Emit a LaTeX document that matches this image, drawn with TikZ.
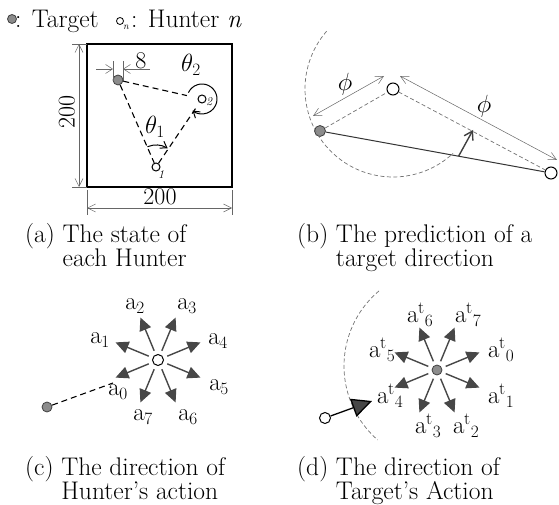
\documentclass[tikz,border=0pt]{standalone}
\usetikzlibrary{arrows.meta,calc}
\begin{document}
\begin{tikzpicture}[x=1pt,y=-1pt,
  tgt/.style={circle, draw=black!75, fill=black!45, line width=0.8pt, minimum size=10pt, inner sep=0pt},
  hun/.style={circle, draw=black, fill=white, line width=1pt, minimum size=11pt, inner sep=0pt},
  dimln/.style={draw=black!60, line width=0.5pt},
  dimarr/.style={dimln, {Straight Barb[length=8pt,width=8pt]}-{Straight Barb[length=8pt,width=8pt]}},
  dsh/.style={line width=1.1pt, dash pattern=on 6pt off 4pt},
  gdsh/.style={draw=black!55, line width=0.7pt, dash pattern=on 4pt off 2.5pt},
  act/.style={draw=black!72, line width=1.4pt, -{Triangle[length=13pt,width=12pt]}},
  captext/.style={font=\fontsize{25.5}{24}\selectfont, inner sep=0pt, anchor=base west},
  lbl/.style={font=\fontsize{24}{24}\selectfont, inner sep=0pt},
  sub/.style={font=\fontsize{12}{12}\selectfont\itshape, inner sep=0pt}
]
\useasboundingbox (0,0) rectangle (559,505);

% legend
\node[tgt, minimum size=9pt] (lt) at (12,19) {};
\node[captext] (ltx) at (15,28) {: Target};
\node[hun, minimum size=7pt, line width=0.8pt] (lh) at (120,21) {};
\node[sub, font=\fontsize{10}{10}\selectfont\itshape] (ln) at (126,27) {n};
\node[captext] (lhx) at (131,28) {: Hunter \textit{n}};

% ---------- (a)
\node[draw, line width=1.5pt, minimum width=145pt, minimum height=143pt, inner sep=0pt] (field) at (159.5,115.5) {};
\coordinate (lt1) at (72,44); \coordinate (lt2) at (87,44);
\coordinate (lb1) at (72,187); \coordinate (lb2) at (87,187);
\draw[dimln] (lt1) -- (lt2); \draw[dimln] (lb1) -- (lb2);
\coordinate (ld1) at (79,44); \coordinate (ld2) at (79,187);
\draw[dimarr] (ld1) -- (ld2);
\node[lbl, rotate=90] (l200) at (67,112) {200};
\coordinate (bt1) at (87,190); \coordinate (bt2) at (87,215);
\coordinate (bt3) at (232,190); \coordinate (bt4) at (232,215);
\draw[dimln] (bt1) -- (bt2); \draw[dimln] (bt3) -- (bt4);
\coordinate (bd1) at (87,208); \coordinate (bd2) at (232,208);
\draw[dimarr] (bd1) -- (bd2);
\node[lbl] (b200) at (160,197) {200};

\node[tgt] (ta) at (118,80) {};
\node[hun, minimum size=8pt] (h2) at (202,99) {};
\node[sub] (h2s) at (209,102) {2};
\node[hun, minimum size=8pt] (h1) at (156,167) {};
\node[sub] (h1s) at (161,175) {1};

% size 8 dimension
\coordinate (e1a) at (113,61); \coordinate (e1b) at (113,81);
\coordinate (e2a) at (123,61); \coordinate (e2b) at (123,81);
\draw[dimln] (e1a) -- (e1b); \draw[dimln] (e2a) -- (e2b);
\coordinate (e3) at (96,69); \coordinate (e4) at (113,69);
\coordinate (e5) at (150,69); \coordinate (e6) at (123,69);
\draw[dimln, -{Straight Barb[length=7pt,width=9pt]}] (e3) -- (e4);
\draw[dimln, -{Straight Barb[length=7pt,width=9pt]}] (e5) -- (e6);
\node[lbl] (eight) at (141,61) {8};

\draw[dsh, shorten >=11pt] (ta) -- (h2);
\draw[dsh] (ta) -- (h1);
\draw[dsh, shorten >=6pt] (h1) -- (h2);

\draw[line width=1pt, -{Straight Barb[length=6pt,width=8pt]}] ($(h2)+(-155:15)$) arc[start angle=-155, end angle=129, radius=15];
\draw[line width=1pt, -{Straight Barb[length=6pt,width=8pt]}] ($(h1)+(-113:22)$) arc[start angle=-113, end angle=-58, radius=22];
\node[lbl] (th2) at (191,65) {$\theta_{2}$};
\node[lbl] (th1) at (155,127) {$\theta_{1}$};

% ---------- (b)
\node[tgt, minimum size=11pt] (tb) at (320,131) {};
\node[hun, minimum size=12pt] (hA) at (393,89) {};
\node[hun, minimum size=12pt] (hB) at (551,173) {};
\draw[gdsh] ($(hA)+(-139:88)$) arc[start angle=-139, end angle=-313, radius=88];
\draw[gdsh] (tb) -- (hA);
\draw[gdsh] (hA) -- (hB);
\draw[line width=1pt, draw=black!80] (tb) -- (hB);
\coordinate (pa1) at (313,116); \coordinate (pa2) at (384,76);
\coordinate (pb1) at (400,76); \coordinate (pb2) at (557,160);
\draw[dimarr] (pa1) -- (pa2);
\draw[dimarr] (pb1) -- (pb2);
\node[lbl] (phi1) at (345,84) {$\phi$};
\node[lbl] (phi2) at (484,106) {$\phi$};
\coordinate (pr) at ($(tb)!0.6!(hB)$);
\coordinate (pq) at (473,130);
\draw[line width=1.4pt, draw=black!75, -{Straight Barb[length=8pt,width=10pt]}] (pr) -- (pq);

% ---------- (c)
\node[tgt] (tc) at (47,407) {};
\node[hun] (hc) at (158,360) {};
\foreach \k in {0,...,7} {
  \coordinate (c\k) at ($(hc)+({45*\k-202.5}:46)$);
  \draw[act, shorten <=4pt] (hc) -- (c\k);
}
\coordinate (ce) at (113,383);
\draw[dsh] (tc) -- (ce);
\node[lbl] (a0) at (118,392) {$\mathrm{a}_{0}$};
\node[lbl] (a1) at (100,340) {$\mathrm{a}_{1}$};
\node[lbl] (a2) at (135,306) {$\mathrm{a}_{2}$};
\node[lbl] (a3) at (187,306) {$\mathrm{a}_{3}$};
\node[lbl] (a4) at (218,341) {$\mathrm{a}_{4}$};
\node[lbl] (a5) at (219,387) {$\mathrm{a}_{5}$};
\node[lbl] (a6) at (188,417) {$\mathrm{a}_{6}$};
\node[lbl] (a7) at (143,417) {$\mathrm{a}_{7}$};

% ---------- (d)
\node[tgt] (td) at (437,370) {};
\foreach \k in {0,...,7} {
  \coordinate (d\k) at ($(td)+({45*\k-22.5}:46)$);
  \draw[act, shorten <=4pt] (td) -- (d\k);
}
\draw[gdsh] ($(442,366)+(-130:98)$) arc[start angle=-130, end angle=-229, radius=98];
\node[hun] (hd) at (325,418) {};
\coordinate (dt) at (372,401);
\draw[draw=black, line width=1.3pt, -{Triangle[length=20pt,width=19pt, fill=black!72]}] (hd) -- (dt);
\node[lbl] (t0) at (501,350) {$\mathrm{a}^{\mathrm{t}}{}_{0}$};
\node[lbl] (t1) at (501,396) {$\mathrm{a}^{\mathrm{t}}{}_{1}$};
\node[lbl] (t2) at (466,426) {$\mathrm{a}^{\mathrm{t}}{}_{2}$};
\node[lbl] (t3) at (428,426) {$\mathrm{a}^{\mathrm{t}}{}_{3}$};
\node[lbl] (t4) at (390,396) {$\mathrm{a}^{\mathrm{t}}{}_{4}$};
\node[lbl] (t5) at (382,350) {$\mathrm{a}^{\mathrm{t}}{}_{5}$};
\node[lbl] (t6) at (420,315) {$\mathrm{a}^{\mathrm{t}}{}_{6}$};
\node[lbl] (t7) at (468,315) {$\mathrm{a}^{\mathrm{t}}{}_{7}$};

% captions
\node[captext] (capa1) at (25,242) {(a) The state of};
\node[captext] (capa2) at (25,266) {\phantom{(a) }each Hunter};
\node[captext] (capb1) at (297,242) {(b) The prediction of a};
\node[captext] (capb2) at (297,266) {\phantom{(b) }target direction};
\node[captext] (capc1) at (25,475) {(c) The direction of};
\node[captext] (capc2) at (25,499) {\phantom{(c) }Hunter's action};
\node[captext] (capd1) at (297,475) {(d) The direction of};
\node[captext] (capd2) at (297,499) {\phantom{(d) }Target's Action};
\end{tikzpicture}
\end{document}
